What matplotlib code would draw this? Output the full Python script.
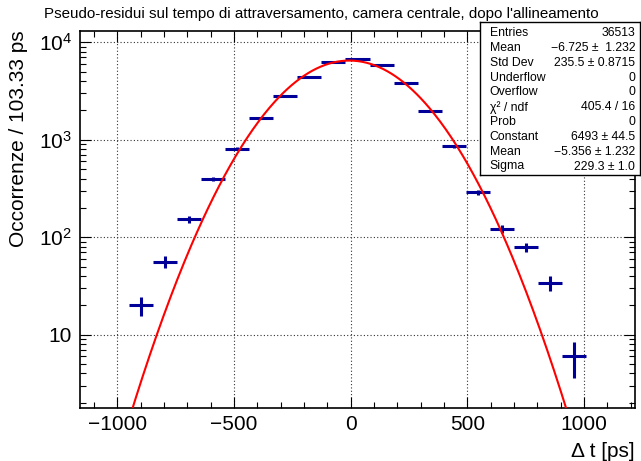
## Pseudo-residui histogram with gaussian fit (ROOT style)
import numpy as np
import matplotlib
matplotlib.use("Agg")
import matplotlib.pyplot as plt
from matplotlib.ticker import FixedLocator, FixedFormatter, LogLocator, MultipleLocator, NullFormatter

plt.rcParams['font.family'] = ['Liberation Sans', 'DejaVu Sans']
plt.rcParams['mathtext.fontset'] = 'custom'
plt.rcParams['mathtext.rm'] = 'Liberation Sans'
plt.rcParams['mathtext.it'] = 'Liberation Sans:italic'

## Histogram data (23 bins of 103.33 ps)
x_low = -1158.67
bin_width = 103.33
counts = [0, 0, 20, 56, 153, 395, 808, 1656, 2786, 4441, 6291, 6800,
          5860, 3828, 1986, 853, 290, 122, 79, 34, 6, 0, 0]

## Fit parameters (gaus)
fit_constant = 6493
fit_mean = -5.356
fit_sigma = 229.3

## Stats box
stat_names = ["Entries", "Mean", "Std Dev", "Underflow", "Overflow",
              "χ² / ndf", "Prob", "Constant", "Mean", "Sigma"]
stat_values = ["36513", "−6.725 ±  1.232", "235.5 ± 0.8715", "0", "0",
               "405.4 / 16", "0", "6493 ± 44.5", "−5.356 ± 1.232", "229.3 ± 1.0"]

title = "Pseudo-residui sul tempo di attraversamento, camera centrale, dopo l'allineamento"

counts = np.array(counts, dtype=float)
n_bins = len(counts)
x_high = x_low + n_bins * bin_width
centers = x_low + bin_width * (np.arange(n_bins) + 0.5)
mask = counts > 0

fig = plt.figure(figsize=(6.41, 4.61), dpi=100)
ax = fig.add_axes([80.3 / 641, 1 - 407.7 / 461, (634.7 - 80.3) / 641, (407.7 - 30.7) / 461])

ax.set_yscale('log')
ax.set_xlim(x_low, x_high)
ax.set_ylim(1.78, 13150)

ax.grid(True, which='major', linestyle=(0, (1, 2)), color='#333333', linewidth=0.8)

# data points with errors
ax.errorbar(centers[mask], counts[mask], xerr=bin_width / 2, yerr=np.sqrt(counts[mask]),
            fmt='none', ecolor='#000099', elinewidth=2.2, capsize=0, zorder=3)

# fit curve
xf = np.linspace(x_low, x_high, 400)
yf = fit_constant * np.exp(-0.5 * ((xf - fit_mean) / fit_sigma) ** 2)
ax.plot(xf, yf, color='red', linewidth=1.5, zorder=4)

# ticks
ax.xaxis.set_major_locator(MultipleLocator(500))
ax.xaxis.set_minor_locator(MultipleLocator(100))
ax.xaxis.set_major_formatter(plt.FuncFormatter(lambda v, p: f"{v:.0f}".replace('-', '\u2212')))
ax.yaxis.set_major_locator(FixedLocator([10, 100, 1000, 10000]))
ax.yaxis.set_major_formatter(FixedFormatter(["10", "$10^{2}$", "$10^{3}$", "$10^{4}$"]))
ax.yaxis.set_minor_locator(LogLocator(base=10, subs=np.arange(2, 10)))
ax.yaxis.set_minor_formatter(NullFormatter())
ax.tick_params(which='both', direction='in', top=True, right=True, labelsize=15, width=0.8)
ax.tick_params(which='major', length=8)
ax.tick_params(which='minor', length=4.5)
ax.tick_params(axis='x', pad=5)
ax.tick_params(axis='y', pad=6)
for s in ax.spines.values():
    s.set_linewidth(1.2)

ax.set_xlabel("Δ t [ps]", fontsize=15, loc='right', labelpad=6)
ax.set_ylabel("Occorrenze / 103.33 ps", fontsize=15, loc='top', labelpad=8)

fig.text(44 / 641, 1 - 18.3 / 461, title, fontsize=10.9, ha='left', va='baseline')

## Stats box
box_top, box_bot = 21.7, 175
sb = fig.add_axes([480 / 641, 1 - box_bot / 461, 160 / 641, (box_bot - box_top) / 461])
sb.set_xticks([])
sb.set_yticks([])
sb.set_xlim(0, 1)
sb.set_ylim(0, 1)
for s in sb.spines.values():
    s.set_linewidth(1)
for i, (name, val) in enumerate(zip(stat_names, stat_values)):
    y_px = 33.3 + i * 14.8
    yy = (box_bot - y_px) / (box_bot - box_top)
    sb.text(0.06, yy, name, fontsize=8.8, ha='left', va='center')
    sb.text(0.97, yy, val, fontsize=8.8, ha='right', va='center')

fig.savefig("out.png", dpi=100)
